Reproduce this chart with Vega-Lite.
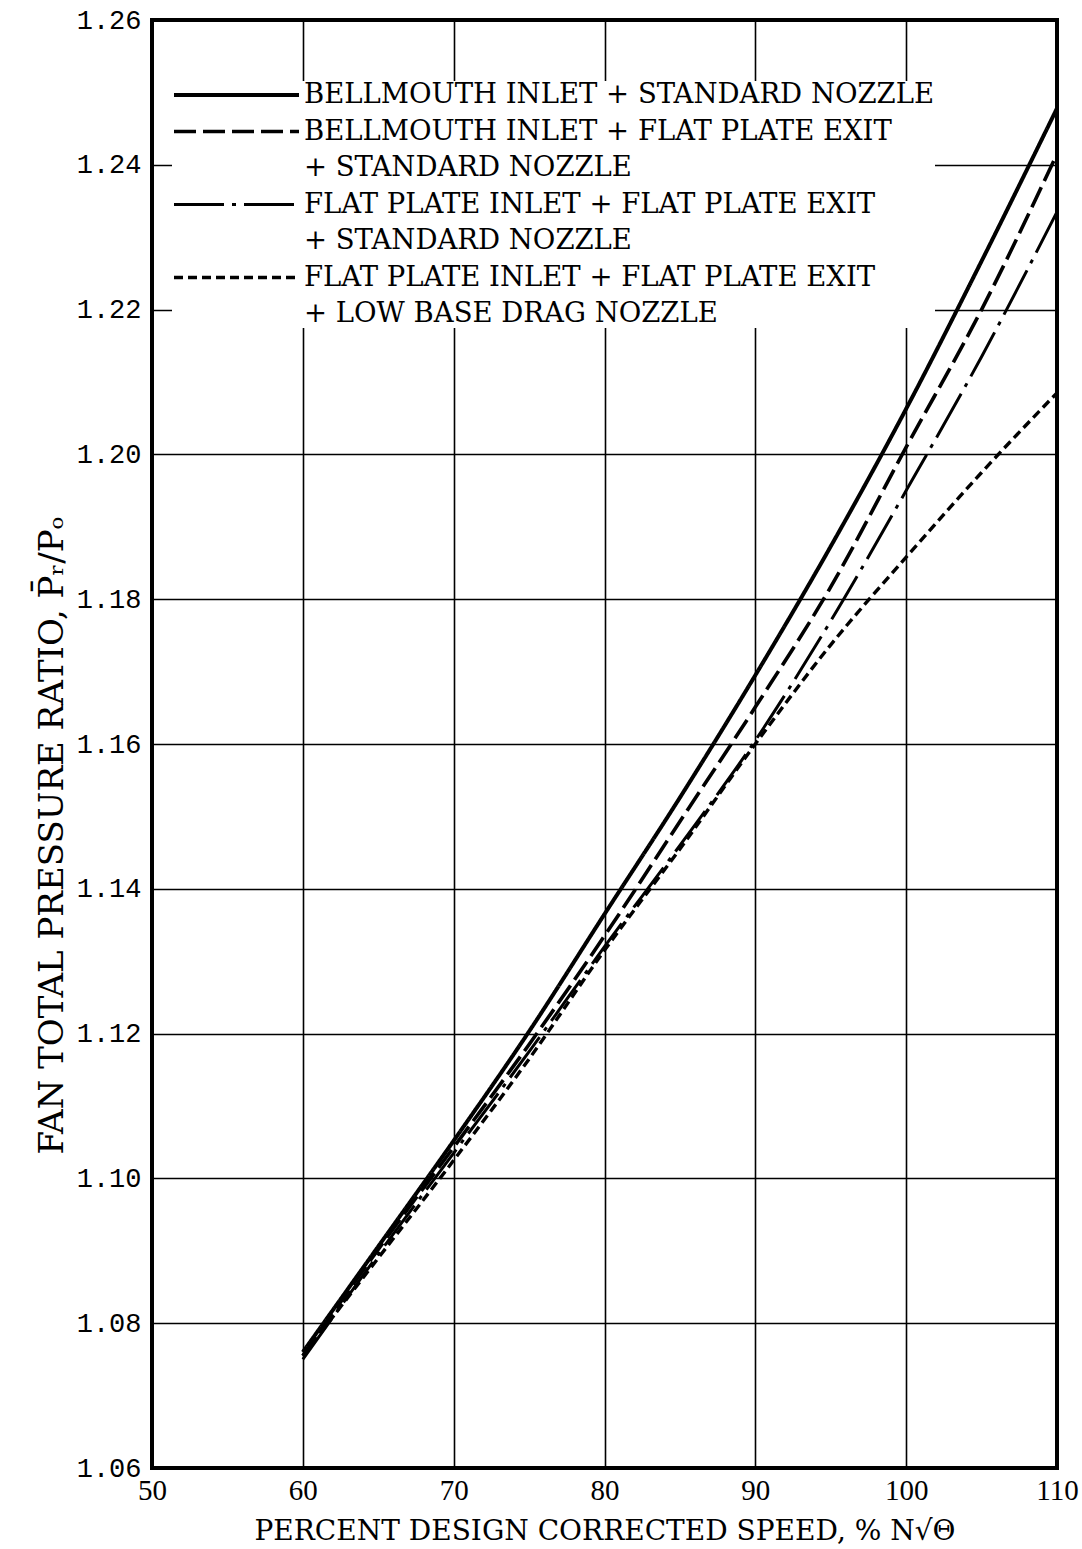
{
  "$schema": "https://vega.github.io/schema/vega-lite/v6.json",
  "width": 905,
  "height": 1448,
  "autosize": {"type": "none"},
  "padding": {"left": 152, "top": 20, "right": 25, "bottom": 81},
  "background": "white",
  "config": {
    "view": {"stroke": "black", "strokeWidth": 4},
    "axis": {
      "grid": true,
      "gridColor": "black",
      "gridOpacity": 1,
      "gridWidth": 1.6,
      "domain": false,
      "ticks": false,
      "labelColor": "black",
      "titleColor": "black",
      "titleFontWeight": "normal",
      "labelFlush": false
    }
  },
  "data": {
    "values": [
      {"config": "bm-std", "speed": 60, "ratio": 1.076},
      {"config": "bm-std", "speed": 65, "ratio": 1.0906},
      {"config": "bm-std", "speed": 70, "ratio": 1.1052},
      {"config": "bm-std", "speed": 75, "ratio": 1.1203},
      {"config": "bm-std", "speed": 80, "ratio": 1.1365},
      {"config": "bm-std", "speed": 85, "ratio": 1.1526},
      {"config": "bm-std", "speed": 90, "ratio": 1.1695},
      {"config": "bm-std", "speed": 95, "ratio": 1.1873},
      {"config": "bm-std", "speed": 100, "ratio": 1.2063},
      {"config": "bm-std", "speed": 105, "ratio": 1.2267},
      {"config": "bm-std", "speed": 110, "ratio": 1.2478},

      {"config": "bm-fpexit-std", "speed": 60, "ratio": 1.0755},
      {"config": "bm-fpexit-std", "speed": 65, "ratio": 1.0902},
      {"config": "bm-fpexit-std", "speed": 70, "ratio": 1.1043},
      {"config": "bm-fpexit-std", "speed": 75, "ratio": 1.1185},
      {"config": "bm-fpexit-std", "speed": 80, "ratio": 1.1335},
      {"config": "bm-fpexit-std", "speed": 85, "ratio": 1.1493},
      {"config": "bm-fpexit-std", "speed": 90, "ratio": 1.1651},
      {"config": "bm-fpexit-std", "speed": 95, "ratio": 1.1817},
      {"config": "bm-fpexit-std", "speed": 100, "ratio": 1.201},
      {"config": "bm-fpexit-std", "speed": 105, "ratio": 1.22},
      {"config": "bm-fpexit-std", "speed": 110, "ratio": 1.2415},

      {"config": "fp-fpexit-std", "speed": 60, "ratio": 1.075},
      {"config": "fp-fpexit-std", "speed": 65, "ratio": 1.0895},
      {"config": "fp-fpexit-std", "speed": 70, "ratio": 1.1035},
      {"config": "fp-fpexit-std", "speed": 75, "ratio": 1.1175},
      {"config": "fp-fpexit-std", "speed": 80, "ratio": 1.132},
      {"config": "fp-fpexit-std", "speed": 85, "ratio": 1.146},
      {"config": "fp-fpexit-std", "speed": 90, "ratio": 1.1605},
      {"config": "fp-fpexit-std", "speed": 95, "ratio": 1.177},
      {"config": "fp-fpexit-std", "speed": 100, "ratio": 1.195},
      {"config": "fp-fpexit-std", "speed": 105, "ratio": 1.2135},
      {"config": "fp-fpexit-std", "speed": 110, "ratio": 1.2335},

      {"config": "fp-fpexit-lbd", "speed": 60, "ratio": 1.0755},
      {"config": "fp-fpexit-lbd", "speed": 65, "ratio": 1.089},
      {"config": "fp-fpexit-lbd", "speed": 70, "ratio": 1.1025},
      {"config": "fp-fpexit-lbd", "speed": 75, "ratio": 1.1165},
      {"config": "fp-fpexit-lbd", "speed": 80, "ratio": 1.1315},
      {"config": "fp-fpexit-lbd", "speed": 85, "ratio": 1.1455},
      {"config": "fp-fpexit-lbd", "speed": 90, "ratio": 1.16},
      {"config": "fp-fpexit-lbd", "speed": 95, "ratio": 1.1737},
      {"config": "fp-fpexit-lbd", "speed": 100, "ratio": 1.1858},
      {"config": "fp-fpexit-lbd", "speed": 105, "ratio": 1.1975},
      {"config": "fp-fpexit-lbd", "speed": 110, "ratio": 1.2085}
    ]
  },
  "mark": {"type": "line", "interpolate": "monotone", "stroke": "black", "strokeCap": "butt"},
  "encoding": {
    "x": {
      "field": "speed",
      "type": "quantitative",
      "scale": {"domain": [50, 110], "nice": false, "zero": false},
      "axis": {
        "values": [50, 60, 70, 80, 90, 100, 110],
        "title": "PERCENT DESIGN CORRECTED SPEED, % N√Θ",
        "labelFont": "Liberation Serif",
        "labelFontSize": 29,
        "labelPadding": 8,
        "titleFont": "DejaVu Serif",
        "titleFontSize": 28,
        "titlePadding": 12
      }
    },
    "y": {
      "field": "ratio",
      "type": "quantitative",
      "scale": {"domain": [1.06, 1.26], "nice": false, "zero": false},
      "axis": {
        "values": [1.06, 1.08, 1.1, 1.12, 1.14, 1.16, 1.18, 1.2, 1.22, 1.24, 1.26],
        "format": ".2f",
        "labelFont": "Liberation Mono",
        "labelFontSize": 27,
        "labelPadding": 11,
        "title": "FAN TOTAL PRESSURE RATIO, P̄ᵣ/Pₒ",
        "titleFont": "DejaVu Serif",
        "titleFontSize": 34,
        "titleX": -90,
        "titleY": 815,
        "titleBaseline": "alphabetic"
      }
    },
    "strokeDash": {
      "field": "config",
      "type": "nominal",
      "scale": {
        "domain": ["bm-std", "bm-fpexit-std", "bm-fpexit-std-2", "fp-fpexit-std", "fp-fpexit-std-2", "fp-fpexit-lbd", "fp-fpexit-lbd-2"],
        "range": [[1, 0], [22, 7], [1, 0], [50, 8, 4, 8], [1, 0], [9, 5], [1, 0]]
      },
      "legend": {
        "orient": "none",
        "legendX": 20,
        "legendY": 61,
        "title": null,
        "symbolType": "stroke",
        "symbolSize": 15625,
        "symbolStrokeColor": "black",
        "clipHeight": 28,
        "rowPadding": 8.5,
        "padding": 0,
        "fillColor": "white",
        "labelFont": "DejaVu Serif",
        "labelFontSize": 27.5,
        "labelColor": "black",
        "labelLimit": 900,
        "labelOffset": 3,
        "labelExpr": "({'bm-std': 'BELLMOUTH INLET + STANDARD NOZZLE', 'bm-fpexit-std': 'BELLMOUTH INLET + FLAT PLATE EXIT', 'bm-fpexit-std-2': '+ STANDARD NOZZLE', 'fp-fpexit-std': 'FLAT PLATE INLET + FLAT PLATE EXIT', 'fp-fpexit-std-2': '+ STANDARD NOZZLE', 'fp-fpexit-lbd': 'FLAT PLATE INLET + FLAT PLATE EXIT', 'fp-fpexit-lbd-2': '+ LOW BASE DRAG NOZZLE'})[datum.value]"
      }
    },
    "strokeWidth": {
      "field": "config",
      "type": "nominal",
      "scale": {
        "type": "ordinal",
        "domain": ["bm-std", "bm-fpexit-std", "bm-fpexit-std-2", "fp-fpexit-std", "fp-fpexit-std-2", "fp-fpexit-lbd", "fp-fpexit-lbd-2"],
        "range": [4, 3.6, 0, 3, 0, 3.4, 0]
      }
    }
  }
}
